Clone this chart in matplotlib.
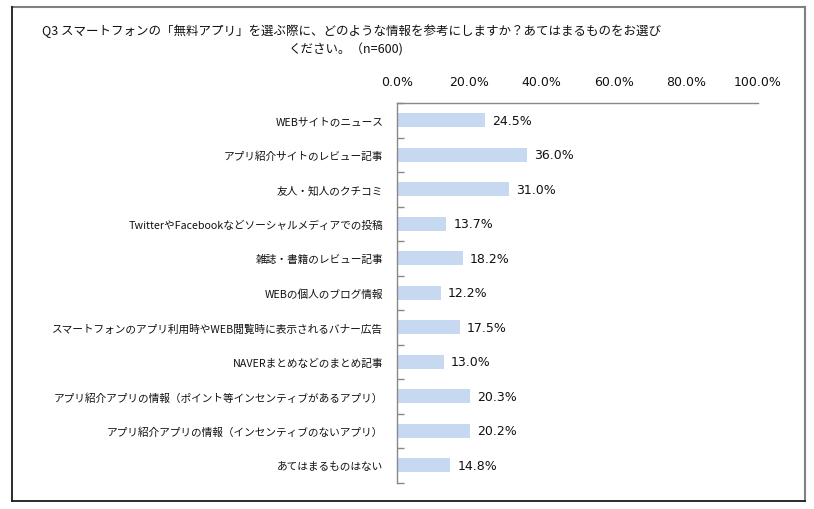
import matplotlib
matplotlib.use("Agg")
import matplotlib.pyplot as plt
from matplotlib.lines import Line2D
from matplotlib.ticker import FixedLocator

plt.rcParams['font.family'] = ['Noto Sans CJK JP', 'DejaVu Sans']

title_line1 = "Q3 スマートフォンの「無料アプリ」を選ぶ際に、どのような情報を参考にしますか？あてはまるものをお選び"
title_line2 = "ください。（n=600)"

categories = [
    "WEBサイトのニュース",
    "アプリ紹介サイトのレビュー記事",
    "友人・知人のクチコミ",
    "TwitterやFacebookなどソーシャルメディアでの投稿",
    "雑誌・書籍のレビュー記事",
    "WEBの個人のブログ情報",
    "スマートフォンのアプリ利用時やWEB閲覧時に表示されるバナー広告",
    "NAVERまとめなどのまとめ記事",
    "アプリ紹介アプリの情報（ポイント等インセンティブがあるアプリ）",
    "アプリ紹介アプリの情報（インセンティブのないアプリ）",
    "あてはまるものはない",
]
values = [24.5, 36.0, 31.0, 13.7, 18.2, 12.2, 17.5, 13.0, 20.3, 20.2, 14.8]
xticks = [0, 20, 40, 60, 80, 100]
xtick_labels = ["0.0%", "20.0%", "40.0%", "60.0%", "80.0%", "100.0%"]

W, H = 814, 510
fig = plt.figure(figsize=(W / 100, H / 100), dpi=100)

def fx(px): return px / W
def fy(py): return 1 - py / H

# outer frame
fig.add_artist(Line2D([fx(12), fx(805)], [fy(8), fy(8)], color="#808080", lw=1.5))
fig.add_artist(Line2D([fx(805), fx(805)], [fy(8), fy(502)], color="#808080", lw=1.5))
fig.add_artist(Line2D([fx(12), fx(12)], [fy(8), fy(502)], color="#1a1a1a", lw=1.3))
fig.add_artist(Line2D([fx(12), fx(805)], [fy(502), fy(502)], color="#1a1a1a", lw=1.3))

# title
fig.text(fx(352), fy(31), title_line1, ha="center", va="center", fontsize=9, color="#111111")
fig.text(fx(346), fy(50), title_line2, ha="center", va="center", fontsize=9, color="#111111")

ax_left, ax_right = 397, 758
ax_top, ax_bottom = 104, 483.5
ax = fig.add_axes([fx(ax_left), fy(ax_bottom), (ax_right - ax_left) / W, (ax_bottom - ax_top) / H])

n = len(categories)
ypos = list(range(n))
ax.barh(ypos, values, height=0.42, color="#C6D9F1", edgecolor="none")
ax.set_xlim(0, 100)
ax.set_ylim(n - 0.5, -0.5)

for y, v in zip(ypos, values):
    ax.annotate(f"{v:.1f}%", xy=(v, y), xytext=(5, 0), textcoords="offset points",
                ha="left", va="center", fontsize=9, color="#111111",
                family=["DejaVu Sans"])

ax.xaxis.tick_top()
ax.set_xticks(xticks)
ax.set_xticklabels(xtick_labels, fontsize=9, family=["DejaVu Sans"], color="#111111")
ax.tick_params(axis="x", length=0, pad=11)

ax.set_yticks(ypos)
ax.set_yticklabels(categories, fontsize=7.7, color="#111111")
ax.tick_params(axis="y", which="major", length=0, pad=10)
ax.yaxis.set_minor_locator(FixedLocator([i - 0.5 for i in range(n + 1)]))
ax.tick_params(axis="y", which="minor", direction="in", length=5, color="#888888", width=1)

for s in ["right", "bottom"]:
    ax.spines[s].set_visible(False)
ax.spines["left"].set_color("#888888")
ax.spines["top"].set_color("#888888")
ax.spines["left"].set_linewidth(1)
ax.spines["top"].set_linewidth(1)

fig.savefig("out.png", dpi=100)
